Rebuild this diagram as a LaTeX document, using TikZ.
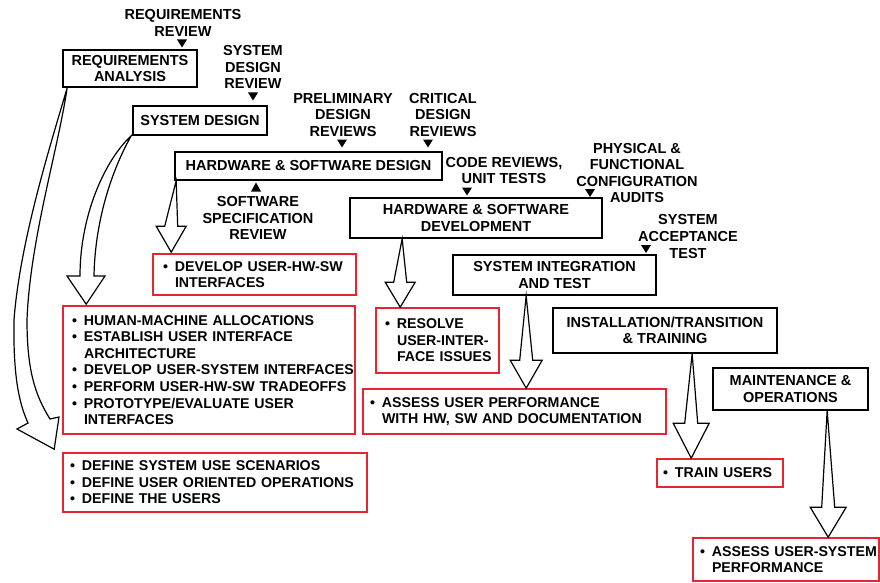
\documentclass[tikz,border=0pt]{standalone}
\usepackage{fontspec}
\setmainfont{Liberation Sans}
\usetikzlibrary{calc}
\definecolor{taskred}{RGB}{228,38,48}

% one bullet line of a task list, and its continuation line
\newcommand\li[1]{\mbox{\makebox[12pt][l]{\textbullet}#1}}
\newcommand\lc[1]{\mbox{\hspace*{12pt}#1}}

% review milestone: small filled triangle, apex given
\newcommand\milestone[1]{\fill (#1) -- ++(-5,-8) -- ++(10,0) -- cycle;}
\newcommand\milestoneup[1]{\fill (#1) -- ++(-5,9) -- ++(10,0) -- cycle;}

% straight hollow wedge arrow: tail, tip, head length, barb half-width
\newcommand\wedgearrow[4]{%
  \draw[wedge] let \p1=(#1), \p2=(#2) in
    (\p1) -- (\x2-6.5pt,\y2+#3) -- (\x2-#4,\y2+#3) -- (\p2)
    -- (\x2+#4,\y2+#3) -- (\x2+6.5pt,\y2+#3) -- cycle;}

\begin{document}
\begin{tikzpicture}[x=1pt,y=-1pt,
  phase/.style={draw=black, line width=1.7pt, inner sep=0pt, align=center,
    font=\fontsize{14.5}{16.5}\selectfont\bfseries},
  review/.style={inner sep=0pt, align=center,
    font=\fontsize{14.5}{16.6}\selectfont\bfseries},
  task/.style={draw=taskred, line width=1.6pt, inner ysep=0pt, align=left,
    font=\fontsize{14.2}{16.6}\selectfont\bfseries},
  wedge/.style={draw=black, fill=white, line width=1.2pt, line join=miter}
]
\useasboundingbox (0,0) rectangle (880,583);
\fill[white] (0,0) rectangle (880,583);

% life-cycle phases
\node[phase, minimum width=134pt, minimum height=37pt] (req) at (130,68.5) {REQUIREMENTS\\ANALYSIS};
\node[phase, minimum width=134pt, minimum height=29pt] (sysd) at (200,120.5) {SYSTEM DESIGN};
\node[phase, minimum width=267pt, minimum height=28pt] (hsd) at (308.5,166) {HARDWARE \& SOFTWARE DESIGN};
\node[phase, minimum width=252pt, minimum height=40pt] (hsdev) at (476,218) {HARDWARE \& SOFTWARE\\DEVELOPMENT};
\node[phase, minimum width=203pt, minimum height=40pt] (sit) at (554.5,275) {SYSTEM INTEGRATION\\AND TEST};
\node[phase, minimum width=224pt, minimum height=45pt] (inst) at (665,330.5) {INSTALLATION/TRANSITION\\\& TRAINING};
\node[phase, minimum width=155pt, minimum height=42pt] (mnt) at (790.5,389) {MAINTENANCE \&\\OPERATIONS};

% reviews and audits
\node[review] (rrev) at (183,23) {REQUIREMENTS\\REVIEW};
\node[review] (sdrev) at (253,67) {SYSTEM\\DESIGN\\REVIEW};
\node[review] (pdr) at (343,115) {PRELIMINARY\\DESIGN\\REVIEWS};
\node[review] (cdr) at (443,115) {CRITICAL\\DESIGN\\REVIEWS};
\node[review] (ssr) at (258,218) {SOFTWARE\\SPECIFICATION\\REVIEW};
\node[review] (code) at (504,170.5) {CODE REVIEWS,\\UNIT TESTS};
\node[review] (pca) at (637,173) {PHYSICAL \&\\FUNCTIONAL\\CONFIGURATION\\AUDITS};
\node[review] (sat) at (688,236.5) {SYSTEM\\ACCEPTANCE\\TEST};

\milestone{182,47.5}
\milestone{253,100.5}
\milestone{342,147.5}
\milestone{428,147.5}
\milestone{467,195.5}
\milestone{590,197}
\milestone{646,253}
\milestoneup{256,182.5}

% human-engineering tasks
\node[task, minimum height=41pt, text width=183pt, inner xsep=10pt] (udev) at (254.5,274.5)
  {\li{DEVELOP USER-HW-SW}\\\lc{INTERFACES}};
\node[task, minimum height=128pt, text width=274pt, inner xsep=9pt] (hci) at (209,370)
  {\li{HUMAN-MACHINE ALLOCATIONS}\\
   \li{ESTABLISH USER INTERFACE}\\
   \lc{ARCHITECTURE}\\
   \li{DEVELOP USER-SYSTEM INTERFACES}\\
   \li{PERFORM USER-HW-SW TRADEOFFS}\\
   \li{PROTOTYPE/EVALUATE USER}\\
   \lc{INTERFACES}};
\node[task, minimum height=59pt, text width=290pt, inner xsep=7pt] (defb) at (215,482.5)
  {\li{DEFINE SYSTEM USE SCENARIOS}\\
   \li{DEFINE USER ORIENTED OPERATIONS}\\
   \li{DEFINE THE USERS}};
\node[task, minimum height=65pt, text width=105pt, inner xsep=9pt] (resolve) at (437.5,340.5)
  {\li{RESOLVE}\\\lc{USER-INTER-}\\\lc{FACE ISSUES}};
\node[task, minimum height=45pt, text width=289pt, inner xsep=7pt] (assess) at (514.5,411.5)
  {\li{ASSESS USER PERFORMANCE}\\\lc{WITH HW, SW AND DOCUMENTATION}};
\node[task, minimum height=28pt, text width=114pt, inner xsep=6pt] (train) at (720,473)
  {\li{TRAIN USERS}};
\node[task, minimum height=43pt, text width=172pt, inner xsep=7pt] (ausp) at (786,559.5)
  {\li{ASSESS USER-SYSTEM}\\\lc{PERFORMANCE}};

% curved wedge arrows from the early phases
\coordinate (t1) at ([xshift=5pt]req.south west);
\coordinate (h1) at ([xshift=-8pt,yshift=3pt]defb.north west);
\draw[wedge] (t1) .. controls (52,140) and (20,240) .. (14,320)
  .. controls (13,380) and (20,405) .. (28,423) -- (17,429) -- (h1)
  -- (59,417) -- (50,419) .. controls (35,395) and (27,370) .. (27,320)
  .. controls (30,240) and (58,150) .. (t1) -- cycle;

\coordinate (t2) at ([xshift=-1pt]sysd.south west);
\coordinate (h2) at ([xshift=24pt,yshift=1pt]hci.north west);
\draw[wedge] (t2) .. controls (105,160) and (80,215) .. (80,276) -- (67,276) -- (h2)
  -- (105,276) -- (94,276) .. controls (95,220) and (112,170) .. (t2) -- cycle;

% straight wedge arrows
\wedgearrow{[xshift=2pt]hsd.south west}{[xshift=19pt,yshift=1pt]udev.north west}{26pt}{15pt}
\wedgearrow{[xshift=53pt]hsdev.south west}{[xshift=25pt]resolve.north west}{25pt}{15pt}
\wedgearrow{[xshift=74pt]sit.south west}{[xshift=164pt]assess.north west}{28pt}{16pt}
\wedgearrow{[xshift=140pt]inst.south west}{[xshift=35pt]train.north west}{35pt}{18pt}
\wedgearrow{[xshift=115pt]mnt.south west}{[xshift=136pt]ausp.north west}{30pt}{18pt}
\end{tikzpicture}
\end{document}
